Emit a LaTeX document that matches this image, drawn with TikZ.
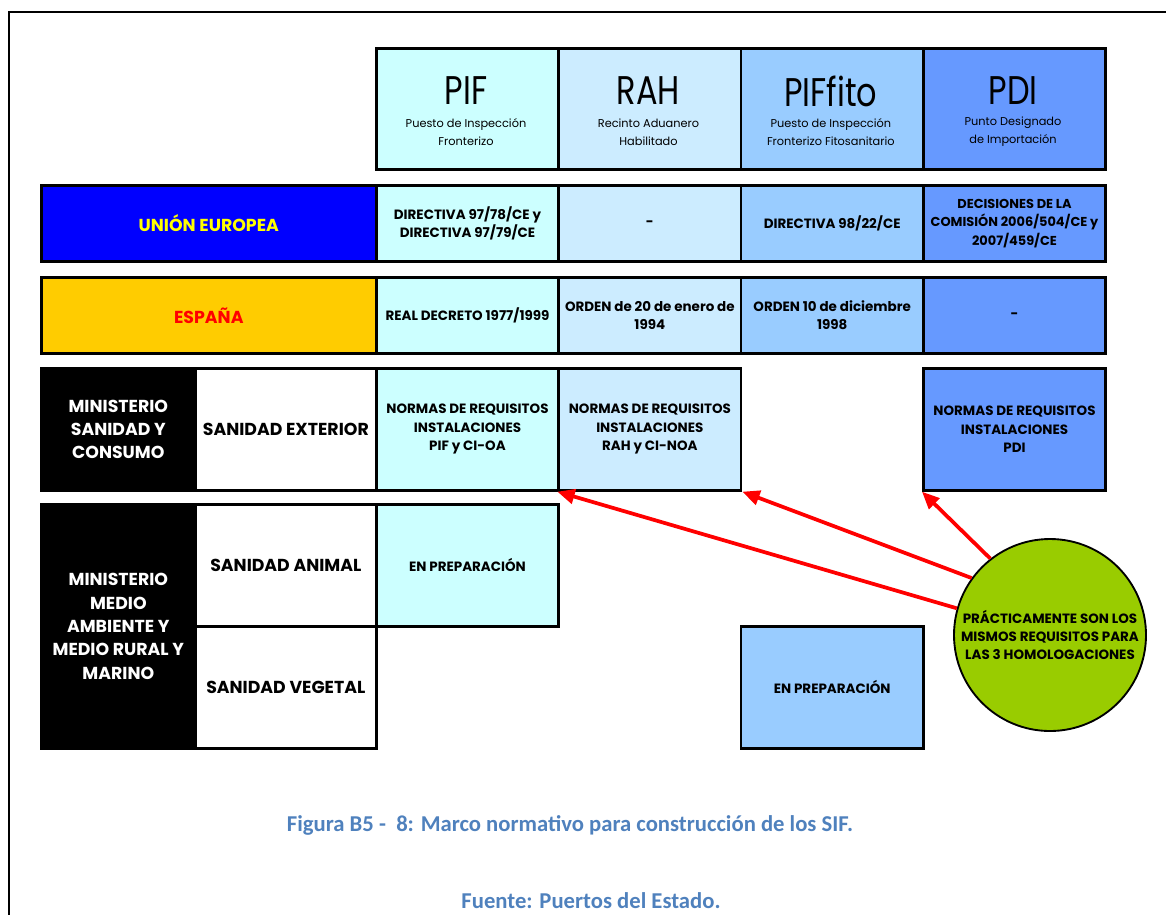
\documentclass[tikz,border=0pt]{standalone}
\usepackage{fontspec}
\setmainfont{Poppins}
\newfontfamily\headfont{Poppins}[FakeStretch=0.8]
\newfontfamily\capfont{Carlito}
\usetikzlibrary{arrows.meta}

\definecolor{pifc}{HTML}{CCFFFF}
\definecolor{rahc}{HTML}{CCECFF}
\definecolor{fitoc}{HTML}{99CCFF}
\definecolor{pdic}{HTML}{6699FF}
\definecolor{eublue}{HTML}{0000FF}
\definecolor{euyellow}{HTML}{FFFF00}
\definecolor{espgold}{HTML}{FFCC00}
\definecolor{espred}{HTML}{FF0000}
\definecolor{notegreen}{HTML}{99CC00}
\definecolor{capblue}{HTML}{4F81BD}

% column width and row heights (1 unit = 0.75pt)
\def\colw{136.75pt}
\def\headh{90.75pt}
\def\lawh{57pt}
\def\rowh{91.5pt}

\tikzset{
  cell/.style={draw=black, line width=2pt, inner sep=0pt, anchor=north west,
    align=center, font=\bfseries\fontsize{10.1}{13.8}\selectfont},
  label/.style={cell, font=\bfseries\fontsize{13}{17.5}\selectfont},
  htitle/.style={inner sep=0pt, font=\headfont\fontsize{30}{30}\selectfont},
  hsub/.style={inner sep=0pt, align=center, font=\fontsize{8.5}{13.5}\selectfont},
  frame/.style={draw=black, line width=2.2pt},
  pointer/.style={draw=red, line width=2.8pt, -{Triangle[length=13pt,width=11pt]}},
  note/.style={circle, draw=black, line width=1.4pt, fill=notegreen, inner sep=0pt,
    minimum size=144pt, align=center, font=\bfseries\fontsize{10.1}{13.2}\selectfont},
  caption/.style={inner sep=0pt, text=capblue, font=\capfont\bfseries\fontsize{17}{19}\selectfont}
}

\begin{document}
\begin{tikzpicture}[x=0.75pt,y=-0.75pt]
\useasboundingbox (0,0) rectangle (1166,915);

% page frame
\draw[frame] (1166,12) -- (9,12) -- (9,915);

% header row
\node[cell, fill=pifc,  minimum width=\colw, minimum height=\headh] (hPIF)  at (375,47) {};
\node[cell, fill=rahc,  minimum width=\colw, minimum height=\headh] (hRAH)  at (557.33,47) {};
\node[cell, fill=fitoc, minimum width=\colw, minimum height=\headh] (hFITO) at (739.67,47) {};
\node[cell, fill=pdic,  minimum width=\colw, minimum height=\headh] (hPDI)  at (922,47) {};

\node[htitle] (tPIF)  at (466,91) {PIF};
\node[htitle] (tRAH)  at (648.5,91) {RAH};
\node[htitle] (tFITO) at (830.8,91) {PIFfito};
\node[htitle] (tPDI)  at (1013,91) {PDI};

\node[hsub] (sPIF)  at (466,132) {Puesto de Inspección\\Fronterizo};
\node[hsub] (sRAH)  at (648.5,132) {Recinto Aduanero\\Habilitado};
\node[hsub] (sFITO) at (830.8,132) {Puesto de Inspección\\Fronterizo Fitosanitario};
\node[hsub] (sPDI)  at (1013,132) {Punto Designado\\de Importación};

% Unión Europea
\node[label, fill=eublue, text=euyellow, minimum width=251.25pt, minimum height=\lawh] (euL) at (40,184) {UNIÓN EUROPEA};
\node[cell, fill=pifc,  minimum width=\colw, minimum height=\lawh] (euPIF)  at (375,184) {DIRECTIVA 97/78/CE y\\DIRECTIVA 97/79/CE};
\node[cell, fill=rahc,  minimum width=\colw, minimum height=\lawh] (euRAH)  at (557.33,184) {-};
\node[cell, fill=fitoc, minimum width=\colw, minimum height=\lawh] (euFITO) at (739.67,184) {DIRECTIVA 98/22/CE};
\node[cell, fill=pdic,  minimum width=\colw, minimum height=\lawh,
      font=\bfseries\fontsize{9.7}{13.8}\selectfont] (euPDI)  at (922,184) {DECISIONES DE LA\\COMISIÓN 2006/504/CE y\\2007/459/CE};

% España
\node[label, fill=espgold, text=espred, minimum width=251.25pt, minimum height=\lawh] (esL) at (40,276) {ESPAÑA};
\node[cell, fill=pifc,  minimum width=\colw, minimum height=\lawh] (esPIF)  at (375,276) {REAL DECRETO 1977/1999};
\node[cell, fill=rahc,  minimum width=\colw, minimum height=\lawh] (esRAH)  at (557.33,276) {ORDEN de 20 de enero de\\1994};
\node[cell, fill=fitoc, minimum width=\colw, minimum height=\lawh] (esFITO) at (739.67,276) {ORDEN 10 de diciembre\\1998};
\node[cell, fill=pdic,  minimum width=\colw, minimum height=\lawh] (esPDI)  at (922,276) {-};

% Ministerio de Sanidad y Consumo
\node[label, fill=black, text=white, minimum width=115.5pt, minimum height=\rowh] (msc) at (40,367) {MINISTERIO\\SANIDAD Y\\CONSUMO};
\node[label, fill=white, minimum width=135.75pt, minimum height=\rowh] (ext) at (194,367) {SANIDAD EXTERIOR};
\node[cell, fill=pifc, minimum width=\colw, minimum height=\rowh] (normPIF) at (375,367) {NORMAS DE REQUISITOS\\INSTALACIONES\\PIF y CI-OA};
\node[cell, fill=rahc, minimum width=\colw, minimum height=\rowh] (normRAH) at (557.33,367) {NORMAS DE REQUISITOS\\INSTALACIONES\\RAH y CI-NOA};
\node[cell, fill=pdic, minimum width=\colw, minimum height=\rowh] (normPDI) at (922,367) {NORMAS DE REQUISITOS\\INSTALACIONES\\PDI};

% Ministerio de Medio Ambiente y Medio Rural y Marino
\node[label, fill=black, text=white, minimum width=115.5pt, minimum height=183pt] (mma) at (40,503) {MINISTERIO\\MEDIO\\AMBIENTE Y\\MEDIO RURAL Y\\MARINO};
\node[label, fill=white, minimum width=135.75pt, minimum height=\rowh] (ani) at (194,503) {SANIDAD ANIMAL};
\node[label, fill=white, minimum width=135.75pt, minimum height=\rowh] (veg) at (194,625) {SANIDAD VEGETAL};
\node[cell, fill=pifc,  minimum width=\colw, minimum height=\rowh] (prepPIF)  at (375,503) {EN PREPARACIÓN};
\node[cell, fill=fitoc, minimum width=\colw, minimum height=\rowh] (prepFITO) at (739.67,625) {EN PREPARACIÓN};

% common requirements note
\node[note] (same) at (1050,635) {PRÁCTICAMENTE SON LOS\\MISMOS REQUISITOS PARA\\LAS 3 HOMOLOGACIONES};
\draw[pointer] (same.164) -- (normRAH.south west);
\draw[pointer] (same.144) -- (normRAH.south east);
\draw[pointer] (same.128) -- (normPDI.south west);

% caption
\node[caption] (cap1) at (570,825) {Figura B5 -\ \ 8: Marco normativo para construcción de los SIF.};
\node[caption] (cap2) at (591,901) {Fuente: Puertos del Estado.};
\end{tikzpicture}
\end{document}
